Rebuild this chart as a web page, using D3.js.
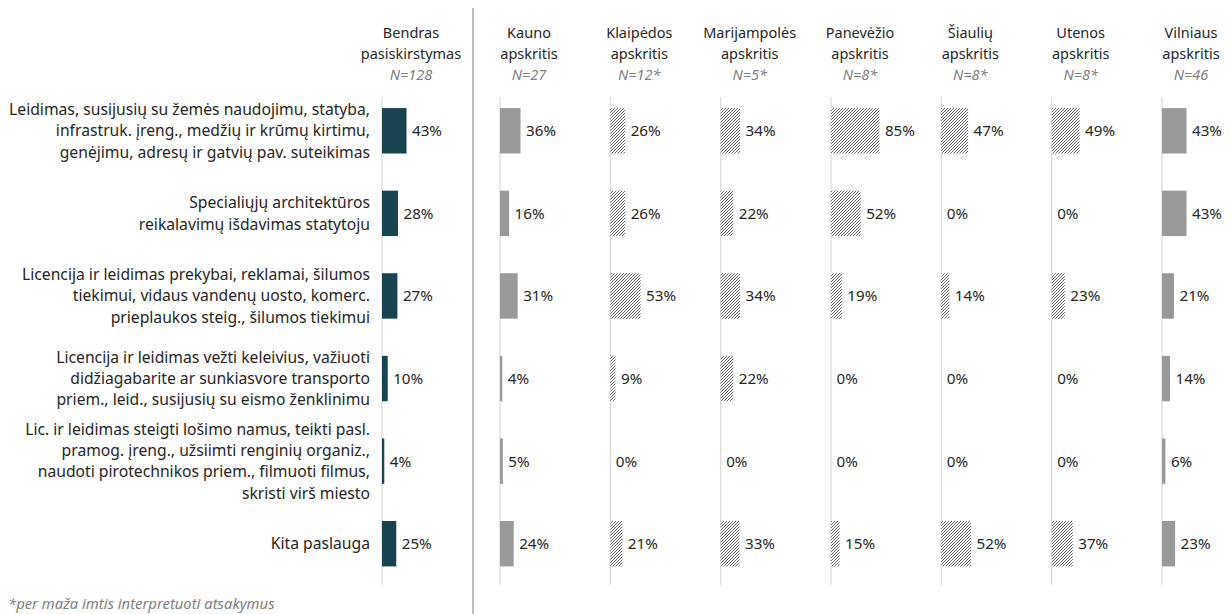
<!DOCTYPE html>
<html><head><meta charset="utf-8">
<script src="https://cdn.jsdelivr.net/npm/d3@7"></script>
<style>
body{margin:0;background:#fff;}
text{font-family:"Noto Sans",sans-serif;}
</style></head>
<body><svg id="c" width="1231" height="614"></svg>
<script>
const categories = [
  ["Leidimas, susijusių su žemės naudojimu, statyba,","infrastruk. įreng., medžių ir krūmų kirtimu,","genėjimu, adresų ir gatvių pav. suteikimas"],
  ["Specialiųjų architektūros","reikalavimų išdavimas statytoju"],
  ["Licencija ir leidimas prekybai, reklamai, šilumos","tiekimui, vidaus vandenų uosto, komerc.","prieplaukos steig., šilumos tiekimui"],
  ["Licencija ir leidimas vežti keleivius, važiuoti","didžiagabarite ar sunkiasvore transporto","priem., leid., susijusių su eismo ženklinimu"],
  ["Lic. ir leidimas steigti lošimo namus, teikti pasl.","pramog. įreng., užsiimti renginių organiz.,","naudoti pirotechnikos priem., filmuoti filmus,","skristi virš miesto"],
  ["Kita paslauga"]
];
const catKeys = categories.map((c,i)=>"c"+i);
const totalHeader = ["Bendras","pasiskirstymas"];
const totalN = "N=128";
const totalValues = [43,28,27,10,4,25];
const regionNames = [["Kauno","apskritis"],["Klaipėdos","apskritis"],["Marijampolės","apskritis"],["Panevėžio","apskritis"],["Šiaulių","apskritis"],["Utenos","apskritis"],["Vilniaus","apskritis"]];
const regionN = ["N=27","N=12*","N=5*","N=8*","N=8*","N=8*","N=46"];
const regionSmall = [false,true,true,true,true,true,false];
const kaunoValues = [36,16,31,4,5,24];
const klaipedosValues = [26,26,53,9,0,21];
const marijampolesValues = [34,22,34,22,0,33];
const panevezioValues = [85,52,19,0,0,15];
const siauliuValues = [47,0,14,0,0,52];
const utenosValues = [49,0,23,0,0,37];
const vilniausValues = [43,43,21,14,6,23];
const regionValues = [kaunoValues,klaipedosValues,marijampolesValues,panevezioValues,siauliuValues,utenosValues,vilniausValues];
const footnote = "*per maža imtis interpretuoti atsakymus";

const svg = d3.select("#c");
const defs = svg.append("defs");
const pat = defs.append("pattern").attr("id","hatch").attr("patternUnits","userSpaceOnUse")
  .attr("width",3).attr("height",3);
pat.append("rect").attr("width",3).attr("height",3).attr("fill","#fff");
pat.append("path").attr("d","M-1,1 L1,-1 M0,3 L3,0 M2,4 L4,2").attr("stroke","#333").attr("stroke-width",0.75);

const y = d3.scaleBand().domain(catKeys).range([89.5,585]).paddingInner(0.45).paddingOuter(0.225);
const w = d3.scaleLinear().domain([0,100]).range([0,57]);
const xRegion = d3.scalePoint().domain(regionNames.map(d=>d[0])).range([500,1162]);
const TEXT = "#262626", NCOL = "#7f7f7f";
const FS = 15.2;

categories.forEach((lines,i)=>{
  const cy = y(catKeys[i]) + y.bandwidth()/2;
  const lh = 21.3;
  const t = svg.append("text").attr("text-anchor","end").attr("fill",TEXT).attr("font-size",15.7);
  lines.forEach((l,j)=>{
    t.append("tspan").attr("x",370).attr("y", cy + (j-(lines.length-1)/2)*lh + 5.5).text(l);
  });
});

function panel(x0, header, nLabel, values, fill){
  svg.append("line").attr("x1",x0).attr("x2",x0).attr("y1",97).attr("y2",585)
    .attr("stroke","#d9d9d9").attr("stroke-width",1.2);
  const cx = x0 + 29;
  const h = svg.append("text").attr("text-anchor","middle").attr("fill",TEXT).attr("font-size",14.5);
  header.forEach((l,j)=>h.append("tspan").attr("x",cx).attr("y",37.5+j*21).text(l));
  svg.append("text").attr("x",cx).attr("y",79.5).attr("text-anchor","middle").attr("fill",NCOL)
    .attr("font-size",14.5).attr("font-style","italic").text(nLabel);
  const g = svg.append("g");
  g.selectAll("rect").data(values).join("rect")
    .attr("x",x0).attr("y",(d,i)=>y(catKeys[i])).attr("height",y.bandwidth())
    .attr("width",d=>w(d)).attr("fill",fill);
  g.selectAll("text").data(values).join("text")
    .attr("x",d=>x0 + w(d) + 5.5).attr("y",(d,i)=>y(catKeys[i])+y.bandwidth()/2+5.5)
    .attr("fill",TEXT).attr("font-size",FS).text(d=>d+"%");
}

panel(382, totalHeader, totalN, totalValues, "#17444f");
regionNames.forEach((r,i)=>{
  panel(xRegion(r[0]), r, regionN[i], regionValues[i], regionSmall[i] ? "url(#hatch)" : "#999999");
});

svg.append("line").attr("x1",473).attr("x2",473).attr("y1",8).attr("y2",614)
  .attr("stroke","#bfbfbf").attr("stroke-width",2);

svg.append("text").attr("x",8).attr("y",609).attr("fill",NCOL).attr("font-size",14.8)
  .attr("font-style","italic").text(footnote);
</script></body></html>
